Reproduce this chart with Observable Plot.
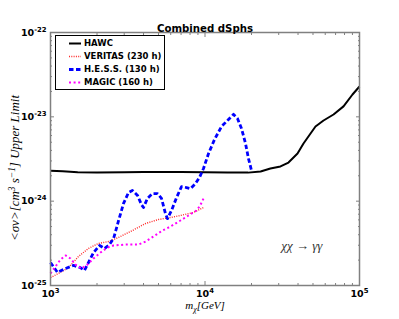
<!DOCTYPE html>
<html><head><meta charset="utf-8">
<script src="https://cdn.jsdelivr.net/npm/d3@7"></script>
<script src="https://cdn.jsdelivr.net/npm/@observablehq/plot@0.6"></script>
<style>body{margin:0;background:#fff} svg{display:block}</style>
</head><body><div id="chart"></div>
<script>
// ---- data ----
const hawcMass = [1000,1200,1500,2000,3000,4000,5000,7000,10000,14000,19000,22900,26500,30800,34700,39700,43400,48200,51900,58500,67900,78800,90100,100000];
const hawcLimit = [2.3e-24,2.26e-24,2.2e-24,2.19e-24,2.2e-24,2.22e-24,2.22e-24,2.21e-24,2.2e-24,2.18e-24,2.18e-24,2.25e-24,2.44e-24,2.58e-24,2.87e-24,3.67e-24,4.83e-24,6.34e-24,7.68e-24,9.05e-24,1.066e-23,1.33e-23,1.84e-23,2.29e-23];

const veritasMass = [1000,1127,1308,1518,1762,2044,2373,2755,3394,4120,5000,5980,6940,8420,9780];
const veritasLimit = [1.24e-25,1.39e-25,1.63e-25,2.21e-25,2.75e-25,3.15e-25,3.32e-25,3.71e-25,4.49e-25,5.43e-25,6.06e-25,6.4e-25,6.76e-25,7.34e-25,8.41e-25];

const hessMass = [1000,1110,1250,1410,1560,1660,1760,1900,2080,2240,2410,2560,2760,2970,3200,3390,3660,3880,4000,4240,4570,4930,5230,5550,5720,6070,6540,7050,7590,8060,8680,9210,9780,10540,11520,12790,14190,15290,16230,17230,18290,19120,20000];
const hessLimit = [1.87e-25,1.43e-25,1.59e-25,1.73e-25,1.63e-25,1.51e-25,1.87e-25,2.46e-25,2.98e-25,2.75e-25,3.06e-25,3.61e-25,5.9e-25,9.4e-25,1.27e-24,1.34e-24,1.17e-24,9.1e-25,8.4e-25,1.08e-24,1.23e-24,1.23e-24,1.08e-24,7.1e-25,6.2e-25,7.75e-25,1.1e-24,1.49e-24,1.45e-24,1.41e-24,1.62e-24,1.91e-24,2.44e-24,3.67e-24,5.38e-24,7.68e-24,9.3e-24,1.07e-23,9.55e-24,7.27e-24,4.83e-24,3.2e-24,2.31e-24];

const magicMass = [1000,1077,1161,1251,1347,1451,1587,1736,1898,2107,2337,2557,3058,3713,4120,4640,5310,5980,6940,7820,8810,9310,9780];
const magicLimit = [1.39e-25,1.68e-25,2.03e-25,2.27e-25,2.09e-25,1.77e-25,1.59e-25,1.77e-25,2.09e-25,2.46e-25,2.82e-25,2.98e-25,3.06e-25,3.06e-25,3.32e-25,3.81e-25,4.49e-25,5.0e-25,5.9e-25,6.76e-25,7.75e-25,8.88e-25,1.075e-24];

const seriesNames = ["HAWC","VERITAS (230 h)","H.E.S.S. (130 h)","MAGIC (160 h)"];
const xTicks = [1e3,1e4,1e5];
const xTickLabels = ["10^{3}","10^{4}","10^{5}"];
const yTicks = [1e-25,1e-24,1e-23,1e-22];
const yTickLabels = ["10^{-25}","10^{-24}","10^{-23}","10^{-22}"];
const titleText = "Combined dSphs";
const xLabel = "m_{χ}[GeV]";
const yLabel = "<σv>[cm^{3} s^{−1}] Upper Limit";
const annotation = "χχ → γγ";

// ---- styles ----
const styles = [
  {stroke:"#000000", strokeWidth:2, dash:null},
  {stroke:"#ff2a2a", strokeWidth:1.4, dash:"1,1.3"},
  {stroke:"#0000ff", strokeWidth:2.8, dash:"4.5,2.5"},
  {stroke:"#ff00ff", strokeWidth:2, dash:"2,2.6"}
];
const gray = "#808080";
const minor = (decades) => decades.flatMap(d => d3.range(2,10).map(k => k*d));
const xMinor = minor([1e3,1e4]);
const yMinor = minor([1e-25,1e-24,1e-23]);
const fmt = (ticks, labels) => v => labels[ticks.indexOf(v)] ?? "";
const blank = () => "";

function tickAxes(axis, ticks, size) {
  const A = axis === "x" ? Plot.axisX : Plot.axisY;
  const anchors = axis === "x" ? ["bottom","top"] : ["left","right"];
  return anchors.map(anchor => A({anchor, ticks, tickSize:-size, tickFormat: blank, label:null, stroke:gray, strokeWidth:1}));
}
function line(mass, limit, s) {
  return Plot.line(mass, {x: mass, y: limit, stroke: s.stroke, strokeWidth: s.strokeWidth,
    strokeDasharray: s.dash ?? undefined, strokeLinecap: "butt", curve: "linear"});
}

const chart = Plot.plot({
  width: 399, height: 319,
  marginLeft: 50, marginRight: 40, marginTop: 32, marginBottom: 34,
  x: {type:"log", domain:[1e3,1e5]},
  y: {type:"log", domain:[1e-25,1e-22]},
  style: {fontFamily:"DejaVu Sans", background:"#fff", color:"#000"},
  marks: [
    line(hawcMass, hawcLimit, styles[0]),
    line(veritasMass, veritasLimit, styles[1]),
    line(hessMass, hessLimit, styles[2]),
    line(magicMass, magicLimit, styles[3]),
    ...tickAxes("x", xTicks, 4),
    ...tickAxes("x", xMinor, 2),
    ...tickAxes("y", yTicks, 4),
    ...tickAxes("y", yMinor, 2),
    Plot.axisX({anchor:"bottom", ticks:xTicks, tickSize:0, tickPadding:5, tickFormat: fmt(xTicks, xTickLabels),
      label:null, fontWeight:"bold", fontSize:9.5}),
    Plot.axisY({anchor:"left", ticks:yTicks, tickSize:0, tickPadding:4, tickFormat: fmt(yTicks, yTickLabels),
      label:null, fontWeight:"bold", fontSize:9.5}),
    Plot.frame({stroke:gray, strokeWidth:1.5}),
    Plot.text([titleText], {frameAnchor:"top", dy:-8, fontWeight:"bold", fontSize:10.2}),
    Plot.text([xLabel], {frameAnchor:"bottom", textAnchor:"middle", lineAnchor:"middle", dy:20, fontFamily:"Liberation Serif", fontStyle:"italic", fontSize:11}),
    Plot.text([yLabel], {frameAnchor:"left", textAnchor:"middle", lineAnchor:"middle", dx:-36, dy:9, rotate:-90, fontFamily:"Liberation Serif", fontStyle:"italic", fontSize:13}),
    Plot.text([annotation], {frameAnchor:"bottom-right", textAnchor:"end", lineAnchor:"middle", dx:-37, dy:-40, fontFamily:"Liberation Serif", fontStyle:"italic", fontSize:13, fill:"#333"})
  ]
});

// superscript / subscript markup  ^{..} _{..}
d3.select(chart).selectAll("text").each(function() {
  const t = this.textContent;
  if (!/[\^_]\{/.test(t)) return;
  const sel = d3.select(this);
  sel.text("");
  const parts = t.split(/(\^\{[^}]*\}|_\{[^}]*\})/).filter(p => p.length);
  let shift = 0;
  for (const p of parts) {
    if (p.startsWith("^{") || p.startsWith("_{")) {
      const up = p[0] === "^";
      const dy = up ? -4 : 2.5;
      sel.append("tspan").attr("dy", dy - shift).attr("font-size", "72%").text(p.slice(2,-1));
      shift = dy;
    } else {
      sel.append("tspan").attr("dy", -shift).text(p);
      shift = 0;
    }
  }
});

// legend
const lg = d3.select(chart).append("g").attr("text-anchor","start");
lg.append("rect").attr("x",55.5).attr("y",35.5).attr("width",109).attr("height",54)
  .attr("fill","#fff").attr("stroke","#000").attr("stroke-width",1);
seriesNames.forEach((name, i) => {
  const y = 43.5 + i*13;
  const s = styles[i];
  lg.append("line").attr("x1",69).attr("x2",81).attr("y1",y).attr("y2",y)
    .attr("stroke",s.stroke).attr("stroke-width",s.strokeWidth)
    .attr("stroke-dasharray", s.dash);
  lg.append("text").attr("x",84).attr("y",y).attr("dy","0.35em").attr("text-anchor","start")
    .attr("font-family","DejaVu Sans").attr("font-weight","bold").attr("font-size",8.5)
    .text(name);
});

document.getElementById("chart").append(chart);
</script>
</body></html>
